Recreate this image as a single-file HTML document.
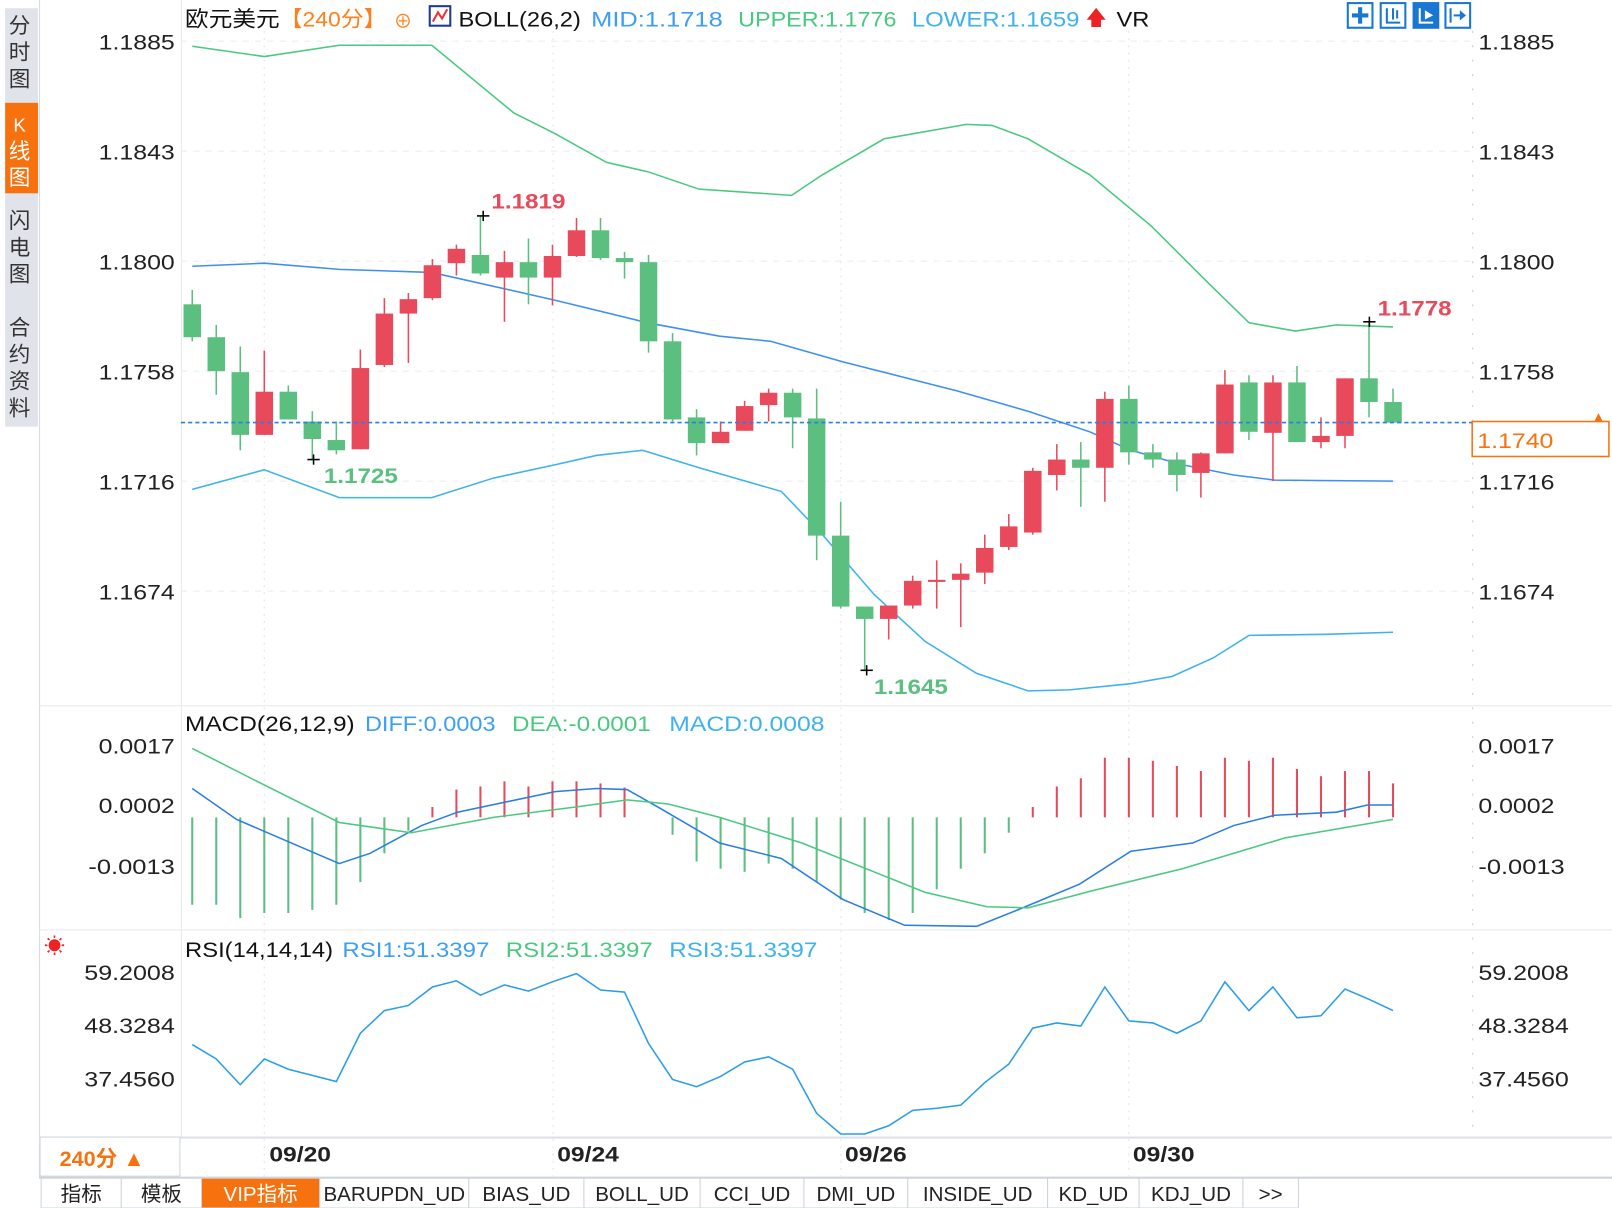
<!DOCTYPE html>
<html><head><meta charset="utf-8"><style>
html,body{margin:0;padding:0;background:#fff;width:1612px;height:1208px;overflow:hidden}
svg{display:block}
text{font-family:"Liberation Sans","Noto Sans CJK SC",sans-serif}
</style></head><body>
<svg id="s" width="1612" height="1208" viewBox="0 0 1568 1175" preserveAspectRatio="none" xmlns="http://www.w3.org/2000/svg">
<rect width="1568" height="1175" fill="#fff"/>
<rect x="5" y="8" width="32" height="407" fill="#e1e3ea"/>
<rect x="5" y="100" width="32" height="88" fill="#f7720f"/>
<g font-size="21" fill="#333" text-anchor="middle">
<text x="19" y="32">分</text><text x="19" y="58">时</text><text x="19" y="84">图</text>
<text x="19" y="128" fill="#fff" font-size="18">K</text><text x="19" y="154" fill="#fff">线</text><text x="19" y="180" fill="#fff">图</text>
<text x="19" y="222">闪</text><text x="19" y="248">电</text><text x="19" y="274">图</text>
<text x="19" y="326">合</text><text x="19" y="352">约</text><text x="19" y="378">资</text><text x="19" y="404">料</text>
</g>
<line x1="38.5" y1="0" x2="38.5" y2="1145" stroke="#d5dae0"/>
<line x1="176.5" y1="0" x2="176.5" y2="1106" stroke="#e6e9ee"/>
<line x1="1432.5" y1="30" x2="1432.5" y2="1106" stroke="#c8ccd2" stroke-dasharray="2,12"/>
<line x1="38" y1="686.5" x2="1568" y2="686.5" stroke="#e6e9ee"/>
<line x1="38" y1="904.5" x2="1568" y2="904.5" stroke="#e6e9ee"/>
<line x1="38" y1="1106.5" x2="1568" y2="1106.5" stroke="#dde1e6" stroke-width="2"/>
<line x1="38" y1="1145.5" x2="1568" y2="1145.5" stroke="#ced4db" stroke-width="2"/>
<g id="grid"></g>
<g id="plot"></g>
<g lengthAdjust="spacingAndGlyphs">
<text x="180" y="26" font-size="21" fill="#111" textLength="92" lengthAdjust="spacingAndGlyphs">欧元美元</text>
<text x="272" y="26" font-size="21" fill="#ff7f1a" textLength="104" lengthAdjust="spacingAndGlyphs">【240分】</text>
<text x="383" y="27" font-size="18" fill="#ff7f1a">⊕</text>
<rect x="418" y="6" width="20" height="19" fill="#fff" stroke="#1a3a9a" stroke-width="2"/>
<polyline points="421,21 426,12 430,18 435,9" fill="none" stroke="#e33" stroke-width="2"/>
<text x="446" y="26" font-size="21" fill="#111" textLength="119" lengthAdjust="spacingAndGlyphs">BOLL(26,2)</text>
<text x="575" y="26" font-size="21" fill="#3d9ef5" textLength="128" lengthAdjust="spacingAndGlyphs">MID:1.1718</text>
<text x="718" y="26" font-size="21" fill="#48c97f" textLength="154" lengthAdjust="spacingAndGlyphs">UPPER:1.1776</text>
<text x="887" y="26" font-size="21" fill="#3db2ec" textLength="163" lengthAdjust="spacingAndGlyphs">LOWER:1.1659</text>
<text x="1056" y="24" font-size="20" fill="#e22">🡅</text>
<text x="1086" y="26" font-size="21" fill="#111" textLength="32" lengthAdjust="spacingAndGlyphs">VR</text>
</g>
<g fill="none" stroke="#1976d2" stroke-width="2">
<rect x="1311" y="3" width="24" height="24"/><rect x="1343" y="3" width="24" height="24"/>
<rect x="1375" y="3" width="24" height="24" fill="#1976d2"/><rect x="1406" y="3" width="24" height="24"/>
<polyline points="1349,8 1349,22 1362,22"/><line x1="1355" y1="8" x2="1355" y2="19"/><line x1="1359" y1="10" x2="1359" y2="18"/>
<polyline points="1381,8 1381,22 1394,22" stroke="#fff"/><polygon points="1386,10 1394,15 1386,19" fill="#fff" stroke="none"/>
<line x1="1411" y1="8" x2="1411" y2="22"/><line x1="1414" y1="15" x2="1422" y2="15"/><polygon points="1420,10 1426,15 1420,20" fill="#1976d2" stroke="none"/>
</g>
<g fill="#1976d2"><rect x="1321" y="7" width="4" height="16"/><rect x="1315" y="13" width="16" height="4"/></g>
<g font-size="21" fill="#222" lengthAdjust="spacingAndGlyphs">
<text x="96" y="48" textLength="74" lengthAdjust="spacingAndGlyphs">1.1885</text><text x="96" y="155" textLength="74" lengthAdjust="spacingAndGlyphs">1.1843</text><text x="96" y="262" textLength="74" lengthAdjust="spacingAndGlyphs">1.1800</text><text x="96" y="369" textLength="74" lengthAdjust="spacingAndGlyphs">1.1758</text><text x="96" y="476" textLength="74" lengthAdjust="spacingAndGlyphs">1.1716</text><text x="96" y="583" textLength="74" lengthAdjust="spacingAndGlyphs">1.1674</text>
<text x="1438" y="48" textLength="74" lengthAdjust="spacingAndGlyphs">1.1885</text><text x="1438" y="155" textLength="74" lengthAdjust="spacingAndGlyphs">1.1843</text><text x="1438" y="262" textLength="74" lengthAdjust="spacingAndGlyphs">1.1800</text><text x="1438" y="369" textLength="74" lengthAdjust="spacingAndGlyphs">1.1758</text><text x="1438" y="476" textLength="74" lengthAdjust="spacingAndGlyphs">1.1716</text><text x="1438" y="583" textLength="74" lengthAdjust="spacingAndGlyphs">1.1674</text>
<text x="96" y="733" textLength="74" lengthAdjust="spacingAndGlyphs">0.0017</text><text x="96" y="791" textLength="74" lengthAdjust="spacingAndGlyphs">0.0002</text><text x="86" y="850" textLength="84" lengthAdjust="spacingAndGlyphs">-0.0013</text>
<text x="1438" y="733" textLength="74" lengthAdjust="spacingAndGlyphs">0.0017</text><text x="1438" y="791" textLength="74" lengthAdjust="spacingAndGlyphs">0.0002</text><text x="1438" y="850" textLength="84" lengthAdjust="spacingAndGlyphs">-0.0013</text>
<text x="82" y="953" textLength="88" lengthAdjust="spacingAndGlyphs">59.2008</text><text x="82" y="1005" textLength="88" lengthAdjust="spacingAndGlyphs">48.3284</text><text x="82" y="1057" textLength="88" lengthAdjust="spacingAndGlyphs">37.4560</text>
<text x="1438" y="953" textLength="88" lengthAdjust="spacingAndGlyphs">59.2008</text><text x="1438" y="1005" textLength="88" lengthAdjust="spacingAndGlyphs">48.3284</text><text x="1438" y="1057" textLength="88" lengthAdjust="spacingAndGlyphs">37.4560</text>
</g>
<rect x="1432" y="410" width="133" height="34" fill="#fff" stroke="#f7720f" stroke-width="1.5"/>
<text x="1437" y="436" font-size="21" fill="#f7720f" textLength="74" lengthAdjust="spacingAndGlyphs">1.1740</text>
<text x="1548" y="410" font-size="14" fill="#f7720f">▲</text>
<g font-size="21" font-weight="bold">
<text x="478" y="203" fill="#e94a5b" textLength="72" lengthAdjust="spacingAndGlyphs">1.1819</text>
<text x="1340" y="307" fill="#e94a5b" textLength="72" lengthAdjust="spacingAndGlyphs">1.1778</text>
<text x="315" y="470" fill="#5bbf7f" textLength="72" lengthAdjust="spacingAndGlyphs">1.1725</text>
<text x="850" y="675" fill="#5bbf7f" textLength="72" lengthAdjust="spacingAndGlyphs">1.1645</text>
</g>
<text x="180" y="711" font-size="21" fill="#111" textLength="165" lengthAdjust="spacingAndGlyphs">MACD(26,12,9)</text>
<text x="355" y="711" font-size="21" fill="#3d9ef5" textLength="127" lengthAdjust="spacingAndGlyphs">DIFF:0.0003</text>
<text x="498" y="711" font-size="21" fill="#48c97f" textLength="135" lengthAdjust="spacingAndGlyphs">DEA:-0.0001</text>
<text x="651" y="711" font-size="21" fill="#3db2ec" textLength="151" lengthAdjust="spacingAndGlyphs">MACD:0.0008</text>
<text x="180" y="931" font-size="21" fill="#111" textLength="144" lengthAdjust="spacingAndGlyphs">RSI(14,14,14)</text>
<text x="333" y="931" font-size="21" fill="#3d9ef5" textLength="143" lengthAdjust="spacingAndGlyphs">RSI1:51.3397</text>
<text x="492" y="931" font-size="21" fill="#48c97f" textLength="143" lengthAdjust="spacingAndGlyphs">RSI2:51.3397</text>
<text x="651" y="931" font-size="21" fill="#3db2ec" textLength="144" lengthAdjust="spacingAndGlyphs">RSI3:51.3397</text>
<text x="43" y="927" font-size="20" fill="#e22">☀</text>
<g font-size="21" fill="#222" font-weight="bold">
<text x="262" y="1130" textLength="60" lengthAdjust="spacingAndGlyphs">09/20</text><text x="542" y="1130" textLength="60" lengthAdjust="spacingAndGlyphs">09/24</text><text x="822" y="1130" textLength="60" lengthAdjust="spacingAndGlyphs">09/26</text><text x="1102" y="1130" textLength="60" lengthAdjust="spacingAndGlyphs">09/30</text>
</g>
<rect x="39" y="1106" width="136" height="38" fill="#fff" stroke="#ced4db"/>
<text x="58" y="1134" font-size="21" fill="#f7720f" font-weight="bold">240分 ▲</text>
<g id="tabs"></g>
</svg>
<script>
var NS="http://www.w3.org/2000/svg";
function el(p,t,a){var e=document.createElementNS(NS,t);for(var k in a)e.setAttribute(k,a[k]);p.appendChild(e);return e;}
var g=document.getElementById('plot'),gr=document.getElementById('grid');
[147,254,361,468,575].forEach(function(y){el(gr,'line',{x1:176,x2:1432,y1:y,y2:y,stroke:'#e8ebef','stroke-dasharray':'6,6'})});
el(gr,'line',{x1:176,x2:1432,y1:40,y2:40,stroke:'#e8ebef','stroke-dasharray':'6,6'});
[257,538,818,1098].forEach(function(x){el(gr,'line',{x1:x,x2:x,y1:30,y2:1145,stroke:'#dfe3e8','stroke-dasharray':'2,5'})});
function pl(pts,c){el(g,'polyline',{points:pts,fill:'none',stroke:c,'stroke-width':1.5});}
pl("187,45 257,55 330,44 420,44 500,110 540,130 590,158 630,167 680,184 770,190 800,170 860,135 940,121 965,122 1000,135 1060,170 1120,220 1175,275 1215,314 1260,322 1300,316 1355,318","#48c97f");
pl("187,259 257,256 330,262 420,265 540,292 630,314 700,327 750,332 820,352 930,380 1000,400 1060,420 1100,438 1150,452 1200,462 1240,467 1355,468","#3d8ff5");
pl("187,476 257,457 330,484 420,484 480,465 540,452 580,443 625,438 680,455 760,478 800,520 850,578 900,624 950,655 1000,672 1040,671 1100,665 1140,658 1180,640 1215,618 1290,617 1355,615","#3db2ec");
var C=[["G",296,328,282,332],["G",328,361,316,384],["G",362,423,337,438],["R",381,423,341,423],["G",381,408,375,408],["G",410,427,400,447],["G",428,438,410,442],["R",358,437,340,437],["R",305,355,290,357],["R",291,305,285,353],["R",258,290,252,292],["R",242,256,238,268],["G",248,266,210,268],["R",255,270,244,313],["G",255,270,232,296],["R",249,270,238,297],["R",224,249,212,250],["G",224,251,212,253],["G",251,255,245,271],["G",255,332,248,343],["G",332,408,324,410],["G",406,431,398,443],["R",420,431,410,431],["R",395,419,390,419],["R",382,394,378,410],["G",382,406,378,436],["G",407,521,378,545],["G",521,590,488,592],["G",590,602,590,652],["R",589,602,589,622],["R",565,589,560,592],["R",564,566,545,592],["R",558,564,548,610],["R",533,557,520,568],["R",512,532,500,535],["R",458,518,455,520],["R",447,462,432,477],["G",447,455,430,493],["R",388,455,381,488],["G",388,440,375,452],["G",440,447,432,455],["G",447,462,440,478],["R",441,460,440,484],["R",374,441,360,441],["G",372,420,365,428],["R",372,421,365,468],["G",372,430,356,430],["R",424,430,406,436],["R",368,424,368,436],["G",368,391,313,406],["G",391,411,378,411]];
function X(i){return 187+i*23.36;}
C.forEach(function(c,i){var x=X(i),col=c[0]=="R"?"#e94a5b":"#5bbf7f";
el(g,'line',{x1:x,x2:x,y1:c[3],y2:c[4],stroke:col,'stroke-width':1.5});
el(g,'rect',{x:x-8.5,y:c[1],width:17,height:Math.max(2,c[2]-c[1]),fill:col});});
el(g,'line',{x1:176,x2:1432,y1:411,y2:411,stroke:'#2a7de1','stroke-width':1.5,'stroke-dasharray':'4,3'});
[[470,210],[305,447],[843,652],[1332,313]].forEach(function(p){el(g,'line',{x1:p[0]-6,x2:p[0]+6,y1:p[1],y2:p[1],stroke:'#000','stroke-width':1.5});el(g,'line',{x1:p[0],x2:p[0],y1:p[1]-5,y2:p[1]+5,stroke:'#000','stroke-width':1.5});});
var M=[880,880,893,888,888,885,880,858,830,808,785,768,765,760,765,760,760,762,766,795,812,838,845,848,840,845,858,875,888,895,888,865,845,830,810,785,765,757,737,737,740,745,750,737,740,737,748,755,750,750,762];
M.forEach(function(v,i){var x=X(i);el(g,'line',{x1:x,x2:x,y1:795,y2:v,stroke:v>795?'#5bbf7f':'#e94a5b','stroke-width':2});});
pl("187,767 230,797 330,840 360,830 410,803 445,790 540,770 580,767 610,768 640,785 700,820 760,835 820,875 880,900 950,901 990,885 1050,860 1100,828 1160,820 1200,803 1240,793 1300,790 1330,783 1355,783","#2a7de1");
pl("187,728 250,760 330,800 400,810 480,795 560,785 610,778 650,782 700,795 780,820 850,848 900,868 960,882 1000,883 1060,867 1150,845 1250,815 1355,797","#48c97f");
var R=[1016,1030,1055,1030,1040,1046,1052,1005,983,978,960,954,968,958,964,955,947,963,965,1015,1050,1057,1047,1033,1028,1040,1083,1103,1103,1095,1080,1078,1075,1053,1035,1000,995,998,960,993,995,1005,993,955,983,960,990,988,962,972,983];
pl(R.map(function(v,i){return X(i)+","+v}).join(" "),"#2a9de8");
var tb=document.getElementById('tabs');
var T=[["指标",40,118],["模板",118,196],["VIP指标",196,311],["BARUPDN_UD",311,456],["BIAS_UD",456,568],["BOLL_UD",568,681],["CCI_UD",681,782],["DMI_UD",782,883],["INSIDE_UD",883,1019],["KD_UD",1019,1108],["KDJ_UD",1108,1209],[">>",1209,1263]];
T.forEach(function(t){var vip=t[0]=="VIP指标";
el(tb,'rect',{x:t[1],y:1146,width:t[2]-t[1],height:29,fill:vip?'#f7720f':'#fff',stroke:'#ced4db'});
var tx=el(tb,'text',{x:(t[1]+t[2])/2,y:1168,'text-anchor':'middle','font-size':20,fill:vip?'#fff':'#222','font-family':'"Liberation Mono","Noto Sans CJK SC",monospace'});tx.textContent=t[0];});
</script>
</body></html>
